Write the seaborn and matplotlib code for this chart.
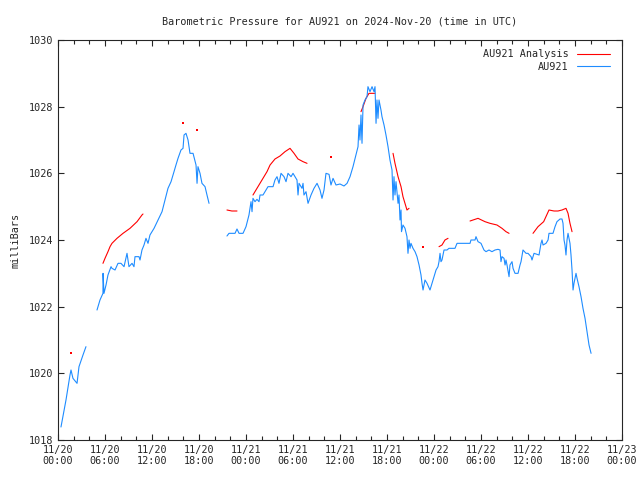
import numpy as np
import pandas as pd
import seaborn as sns
import matplotlib.pyplot as plt
import matplotlib.dates as mdates
from matplotlib.lines import Line2D

nan = np.nan

# hours after 2024-11-20 00:00 UTC, NaN marks a gap in the record
obs_hours = [
    0.38, 1.02, 1.53, 1.66, 1.91, 2.43, 2.68, 3.19, 3.57, nan,
    4.98, 5.36, 5.74, 5.75, 5.87, 6.13, 6.38, 6.77, 6.89, 7.28, 7.66, 8.04, 8.43,
    8.81, 9.06, 9.45, 9.7, 9.83, 10.34, 10.47, 10.72, 10.98, 11.23, 11.49, 11.74,
    12.26, 12.77, 13.28, 13.66, 14.04, 14.43, 14.81, 15.06, 15.32, 15.7, 15.96,
    16.09, 16.34, 16.6, 16.85, 17.24, 17.62, 17.75, 17.87, 18.13, 18.38, 18.77,
    19.02, 19.28, nan,
    21.57, 21.83, 22.6, 22.85, 23.11, 23.62, 24.0, 24.38, 24.64, 24.77, 24.89,
    25.15, 25.4, 25.66, 25.79, 26.17, 26.43, 26.81, 27.45, 27.7, 27.96, 28.21,
    28.47, 28.85, 29.11, 29.36, 29.75, 30.0, 30.51, 30.64, 30.77, 31.15, 31.28,
    31.4, 31.66, 31.92, 32.3, 32.68, 33.07, 33.45, 33.7, 33.96, 34.21, 34.6,
    34.85, 35.11, 35.49, 36.0, 36.51, 36.9, 37.28, 37.66, 38.04, 38.3, 38.43,
    38.55, 38.68, 38.81, 38.94, 39.19, 39.45, 39.57, 39.83, 40.09, 40.34, 40.47,
    40.6, 40.72, 40.85, 40.98, 41.23, 41.36, 41.62, 41.87, 42.13, 42.38, 42.64,
    42.77, 42.89, 43.02, 43.15, 43.41, 43.53, 43.66, 43.79, 43.85, 44.04, 44.3,
    44.55, 44.68, 44.81, 44.94, 45.06, 45.32, 45.58, 45.83, 46.09, 46.34, 46.47,
    46.6, 46.85, 47.11, 47.49, 47.75, 48.0, 48.26, 48.51, 48.64, 48.77, 48.89,
    49.02, 49.28, 49.66, 49.91, 50.68, 50.94, 52.6, 52.72, 53.24, 53.36, 53.62,
    54.0, 54.38, 54.64, 55.02, 55.4, 55.79, 56.17, 56.43, 56.55, 56.68, 56.94,
    57.07, 57.19, 57.32, 57.58, 57.7, 57.96, 58.09, 58.34, 58.73, 58.98, 59.11,
    59.36, 59.75, 60.0, 60.39, 60.51, 60.77, 61.15, 61.41, 61.66, 61.79, 61.92,
    62.3, 62.56, 62.68, 63.19, 63.45, 63.7, 64.09, 64.34, 64.47, 64.6, 64.72,
    64.85, 64.98, 65.11, 65.24, 65.36, 65.49, 65.62, 65.75, 65.87, 66.13, 66.26,
    66.51, 66.77, 67.02, 67.28, 67.54, 67.79, 68.05,
]
obs_mb = [
    1018.39, 1019.2, 1019.95, 1020.1, 1019.85, 1019.7, 1020.2, 1020.55, 1020.8, nan,
    1021.9, 1022.2, 1022.4, 1023.0, 1022.4, 1022.65, 1022.95, 1023.2, 1023.15, 1023.1,
    1023.3, 1023.3, 1023.2, 1023.6, 1023.2, 1023.3, 1023.2, 1023.5, 1023.5, 1023.4,
    1023.7, 1023.85, 1024.05, 1023.9, 1024.15, 1024.35, 1024.6, 1024.85, 1025.2,
    1025.55, 1025.75, 1026.05, 1026.25, 1026.45, 1026.7, 1026.75, 1027.15, 1027.2,
    1027.0, 1026.6, 1026.6, 1026.25, 1025.7, 1026.2, 1026.0, 1025.7, 1025.6, 1025.35,
    1025.1, nan,
    1024.12, 1024.2, 1024.2, 1024.33, 1024.2, 1024.2, 1024.4, 1024.75, 1025.15,
    1024.85, 1025.25, 1025.15, 1025.22, 1025.15, 1025.35, 1025.35, 1025.45, 1025.6,
    1025.6, 1025.8, 1025.9, 1025.7, 1026.0, 1025.9, 1025.75, 1026.0, 1025.9, 1026.0,
    1025.8, 1025.35, 1025.7, 1025.55, 1025.7, 1025.35, 1025.45, 1025.1, 1025.35,
    1025.55, 1025.7, 1025.5, 1025.25, 1025.5, 1026.0, 1025.97, 1025.65, 1025.85,
    1025.65, 1025.68, 1025.62, 1025.7, 1025.9, 1026.2, 1026.55, 1026.8, 1027.45,
    1027.0, 1027.75, 1026.9, 1028.05, 1028.2, 1028.3, 1028.6, 1028.45, 1028.6,
    1028.45, 1028.6, 1027.5, 1028.2, 1027.65, 1028.2, 1027.9, 1027.7, 1027.45,
    1027.15, 1026.8, 1026.4, 1026.1, 1025.2, 1025.9, 1025.35, 1025.75, 1025.1,
    1025.35, 1024.6, 1024.9, 1024.25, 1024.45, 1024.35, 1024.1, 1023.6, 1024.0,
    1023.75, 1023.9, 1023.75, 1023.65, 1023.5, 1023.25, 1022.95, 1022.7, 1022.5,
    1022.8, 1022.7, 1022.5, 1022.7, 1022.9, 1023.1, 1023.2, 1023.35, 1023.6,
    1023.35, 1023.4, 1023.7, 1023.7, 1023.75, 1023.75, 1023.9, 1023.9, 1024.0,
    1024.0, 1024.1, 1023.95, 1023.9, 1023.7, 1023.65, 1023.7, 1023.65, 1023.7,
    1023.72, 1023.7, 1023.35, 1023.5, 1023.45, 1023.25, 1023.4, 1023.25, 1022.9,
    1023.25, 1023.35, 1023.15, 1023.0, 1023.0, 1023.25, 1023.35, 1023.7, 1023.6,
    1023.6, 1023.5, 1023.4, 1023.6, 1023.57, 1023.55, 1023.9, 1024.0, 1023.85,
    1023.9, 1024.0, 1024.2, 1024.2, 1024.4, 1024.55, 1024.63, 1024.63, 1024.5,
    1024.0, 1023.85, 1023.55, 1024.0, 1024.2, 1024.05, 1023.9, 1023.55, 1023.1,
    1022.5, 1022.7, 1023.0, 1022.85, 1022.6, 1022.3, 1021.95, 1021.65, 1021.25,
    1020.85, 1020.6,
]

ana_hours = [
    1.66, nan,
    5.74, 6.0, 6.38, 6.64, 6.89, 7.53, 8.3, 9.19, 10.09, 10.72, 10.85, nan,
    15.96, nan, 17.75, nan,
    21.57, 22.2, 22.85, nan,
    24.89, 25.4, 26.04, 26.68, 27.07, 27.7, 28.34, 28.98, 29.62, 30.13, 30.64,
    31.28, 31.79, nan,
    34.85, nan,
    38.68, 38.94, 39.32, 39.7, 40.47, nan,
    42.77, 43.02, 43.41, 43.79, 44.04, 44.55, 44.81, nan,
    46.6, nan,
    48.64, 49.02, 49.4, 49.79, nan,
    52.6, 53.62, 54.51, 55.15, 56.04, 56.68, 57.19, 57.58, nan,
    60.64, 61.28, 62.0, 62.68, 63.32, 63.83, 64.34, 64.85, 65.11, 65.36, 65.62,
]
ana_mb = [
    1020.6, nan,
    1023.3, 1023.45, 1023.65, 1023.8, 1023.9, 1024.05, 1024.2, 1024.35, 1024.55,
    1024.75, 1024.78, nan,
    1027.5, nan, 1027.3, nan,
    1024.9, 1024.87, 1024.87, nan,
    1025.35, 1025.55, 1025.8, 1026.05, 1026.25, 1026.43, 1026.52, 1026.65, 1026.75,
    1026.6, 1026.43, 1026.35, 1026.3, nan,
    1026.5, nan,
    1027.85, 1028.0, 1028.25, 1028.4, 1028.4, nan,
    1026.6, 1026.3, 1025.9, 1025.6, 1025.3, 1024.9, 1024.95, nan,
    1023.8, nan,
    1023.8, 1023.85, 1024.0, 1024.05, nan,
    1024.57, 1024.65, 1024.55, 1024.5, 1024.45, 1024.35, 1024.25, 1024.2, nan,
    1024.2, 1024.4, 1024.55, 1024.9, 1024.87, 1024.87, 1024.9, 1024.95, 1024.8,
    1024.5, 1024.25,
]

start = pd.Timestamp("2024-11-20 00:00")


def to_frame(hours, mb):
    df = pd.DataFrame({"h": hours, "mb": mb})
    df["seg"] = df["mb"].isna().cumsum()
    df = df.dropna()
    df["time"] = start + pd.to_timedelta(df["h"], unit="h")
    return df


obs = to_frame(obs_hours, obs_mb)
ana = to_frame(ana_hours, ana_mb)

sns.set_style("ticks")
plt.rcParams["font.family"] = ["DejaVu Sans Mono"]
plt.rcParams["font.size"] = 7.3

red = "#ff0000"
blue = "#1e8cff"

fig = plt.figure(figsize=(6.4, 4.8), dpi=100)
ax = fig.add_axes([58 / 640, 40 / 480, 564 / 640, 400 / 480])

sns.lineplot(data=ana, x="time", y="mb", units="seg", estimator=None,
             color=red, lw=0.8, ax=ax, legend=False)
sns.lineplot(data=obs, x="time", y="mb", units="seg", estimator=None,
             color=blue, lw=0.8, ax=ax, legend=False)

# lone analysis readings show up as dots
lone = ana.groupby("seg").filter(lambda g: len(g) == 1)
sns.scatterplot(data=lone, x="time", y="mb", color=red, marker="s", s=2,
                linewidth=0, ax=ax, legend=False)

ax.set_xlim(start, start + pd.Timedelta(hours=72))
ax.set_ylim(1018, 1030)
ax.set_yticks(np.arange(1018, 1031, 2))
ax.xaxis.set_major_locator(mdates.HourLocator(byhour=[0, 6, 12, 18]))
ax.xaxis.set_minor_locator(mdates.HourLocator(interval=2))
ax.xaxis.set_major_formatter(mdates.DateFormatter("%m/%d\n%H:%M"))
ax.tick_params(which="both", direction="in", top=True, right=True, width=0.8)
ax.tick_params(which="major", length=4)
ax.tick_params(which="minor", length=3)
for s in ax.spines.values():
    s.set_linewidth(0.8)
    s.set_visible(True)

ax.set_xlabel("")
ax.set_ylabel("milliBars", labelpad=6)
ax.set_title("Barometric Pressure for AU921 on 2024-Nov-20 (time in UTC)",
             fontsize=7.3, pad=11)

handles = [Line2D([], [], color=red, lw=0.8), Line2D([], [], color=blue, lw=0.8)]
ax.legend(handles, ["AU921 Analysis", "AU921"], loc="upper right",
          bbox_to_anchor=(0.988, 0.99), frameon=False, markerfirst=False,
          handlelength=3.3, borderaxespad=0.1, labelspacing=0.25, fontsize=7.3)

plt.savefig("out.png", dpi=100)
plt.close()
